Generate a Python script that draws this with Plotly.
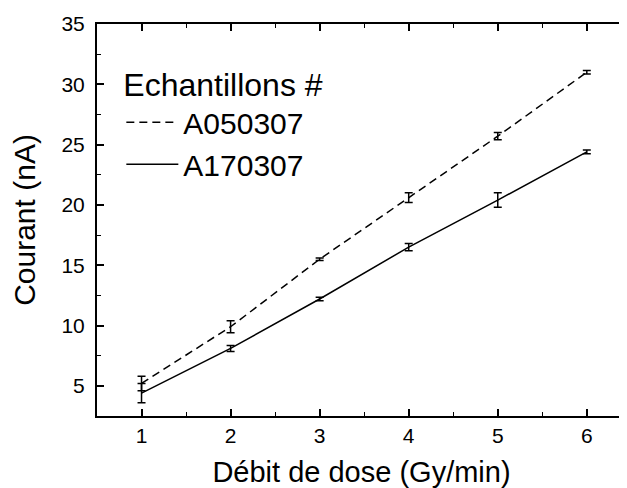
import plotly.graph_objects as go

# dose rate (Gy/min)
dose = [1, 2, 3, 4, 5, 6]

# current (nA) for each sample, with error bars
a050307 = [5.2, 9.9, 15.5, 20.6, 25.7, 31.0]
a050307_err = [0.6, 0.5, 0.1, 0.4, 0.3, 0.15]
a170307 = [4.4, 8.1, 12.2, 16.5, 20.4, 24.4]
a170307_err = [0.8, 0.25, 0.15, 0.3, 0.6, 0.15]

names = ["A050307", "A170307"]

font = "Liberation Sans, Arial, sans-serif"

fig = go.Figure()
fig.add_trace(go.Scatter(
    x=dose, y=a050307, name=names[0], mode="lines",
    line=dict(color="black", width=1.5, dash="8px,5px"),
    error_y=dict(type="data", array=a050307_err, color="black", thickness=1.5, width=4),
))
fig.add_trace(go.Scatter(
    x=dose, y=a170307, name=names[1], mode="lines",
    line=dict(color="black", width=1.5),
    error_y=dict(type="data", array=a170307_err, color="black", thickness=1.5, width=4),
))

axis_common = dict(
    showline=True, linecolor="black", linewidth=2, mirror="allticks",
    ticks="inside", ticklen=7, tickwidth=1.5, tickcolor="black",
    showgrid=False, zeroline=False, automargin=False,
    tickfont=dict(family=font, size=21, color="black"),
)

fig.update_xaxes(
    range=[0.5, 6.44], tickmode="linear", tick0=1, dtick=1,
    minor=dict(dtick=0.5, ticks="inside", ticklen=4, tickwidth=1.2, tickcolor="black"),
    title=dict(text="Débit de dose (Gy/min)", font=dict(family=font, size=29, color="black"), standoff=15),
    **axis_common,
)
fig.update_yaxes(
    range=[2.5, 35], tickmode="linear", tick0=5, dtick=5,
    minor=dict(dtick=2.5, ticks="inside", ticklen=4, tickwidth=1.2, tickcolor="black"),
    title=dict(text="Courant (nA)", font=dict(family=font, size=30, color="black"), standoff=22),
    ticklabelstandoff=6,
    **axis_common,
)

# page body adds 8px, so the figure is sized to fit inside the window
fig.update_layout(
    width=619, height=480,
    margin=dict(l=89, r=1, t=16, b=72, autoexpand=False),
    paper_bgcolor="white", plot_bgcolor="white",
    showlegend=True,
    legend=dict(
        x=0.046, y=0.922, xanchor="left", yanchor="top",
        bgcolor="rgba(0,0,0,0)", itemwidth=52,
        title=dict(text="Echantillons #", font=dict(family=font, size=32, color="black")),
        font=dict(family=font, size=30, color="black"),
    ),
)

fig.write_html("out.html")
